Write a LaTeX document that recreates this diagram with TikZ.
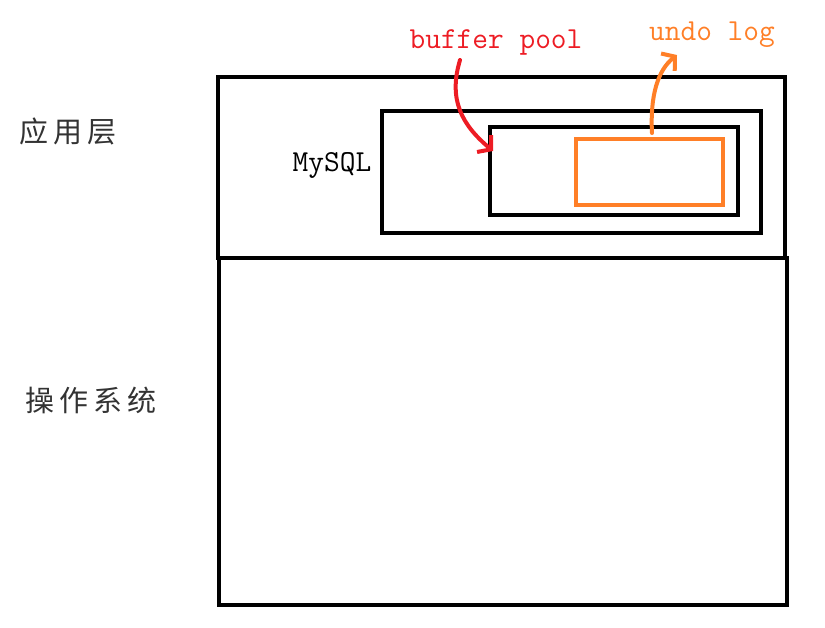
\documentclass[tikz,border=0pt]{standalone}
\usepackage{fontspec}
\newfontfamily\cjkfont{Noto Sans CJK SC}
\usetikzlibrary{arrows.meta}
\definecolor{pred}{HTML}{ED1C24}
\definecolor{porange}{HTML}{FF7F27}
\definecolor{txtgray}{HTML}{333333}
\tikzset{
  blackbox/.style={draw=black, line width=4pt, inner sep=0pt, outer sep=0pt},
  orangebox/.style={draw=porange, line width=4pt, inner sep=0pt, outer sep=0pt},
  latinlabel/.style={font=\ttfamily\fontsize{30.5}{34}\selectfont, inner sep=0pt},
  cjklabel/.style={font=\cjkfont\fontsize{29}{32}\selectfont, text=txtgray, inner sep=0pt},
  hand/.style={line width=4pt, line cap=round, -{Straight Barb[length=9pt,width=22pt,line width=4pt]}}
}
\begin{document}
\begin{tikzpicture}[x=1pt,y=-1pt]
\useasboundingbox (0,0) rectangle (825,627);
\node[blackbox, minimum width=567pt, minimum height=181pt] (app) at (501.5,167.5) {};
\node[blackbox, minimum width=568pt, minimum height=347pt] (os) at (503,431.5) {};
\node[blackbox, minimum width=379pt, minimum height=122pt] (mysql) at (571.5,172) {};
\node[blackbox, minimum width=248pt, minimum height=88pt] (bp) at (614,171) {};
\node[orangebox, minimum width=147pt, minimum height=66pt] (undo) at (649.5,172) {};
\node[latinlabel, text=pred] (bptxt) at (496,42) {buffer pool};
\node[latinlabel, text=porange] (undotxt) at (712,35) {undo log};
\node[latinlabel, text=black] (mysqltxt) at (332,165) {MySQL};
\node[cjklabel] (applayer) at (68,131) {应\,用\,层};
\node[cjklabel] (oslayer) at (91,400) {操\,作\,系\,统};
\coordinate (rs) at (460,60);
\coordinate (re) at (493,151);
\coordinate (os1) at (652,133);
\coordinate (oe) at (677,55);
\draw[hand, pred] (rs) .. controls (448,100) and (462,125) .. (re);
\draw[hand, porange] (os1) .. controls (650,95) and (658,70) .. (oe);
\end{tikzpicture}
\end{document}
